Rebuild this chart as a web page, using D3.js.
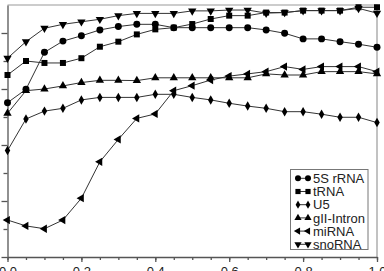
<!DOCTYPE html>
<html>
<head>
<meta charset="utf-8">
<script src="https://cdn.jsdelivr.net/npm/d3@7"></script>
<style>
  body { margin: 0; background: #fff; }
  svg { display: block; font-family: "Liberation Sans", Arial, sans-serif; }
</style>
</head>
<body>
<svg id="chart"></svg>
<script>
// x positions shared by every series
const xValues = d3.range(0, 21).map(i => i * 0.05);

const rRNA5S = [0.551, 0.599, 0.731, 0.771, 0.790, 0.811, 0.823, 0.831, 0.831, 0.819, 0.819,
  0.819, 0.819, 0.819, 0.811, 0.799, 0.779, 0.779, 0.769, 0.760, 0.749];
const tRNA = [0.650, 0.700, 0.693, 0.693, 0.710, 0.751, 0.769, 0.795, 0.813, 0.819, 0.832,
  0.850, 0.862, 0.862, 0.873, 0.873, 0.880, 0.880, 0.880, 0.892, 0.892];
const U5 = [0.380, 0.493, 0.521, 0.531, 0.561, 0.570, 0.570, 0.570, 0.581, 0.581, 0.570,
  0.561, 0.549, 0.539, 0.531, 0.519, 0.519, 0.510, 0.499, 0.499, 0.480];
const gIIIntron = [0.513, 0.594, 0.600, 0.611, 0.623, 0.631, 0.631, 0.630, 0.640, 0.640, 0.640,
  0.640, 0.640, 0.640, 0.654, 0.650, 0.650, 0.662, 0.662, 0.662, 0.654];
const miRNA = [0.132, 0.111, 0.101, 0.132, 0.210, 0.340, 0.420, 0.495, 0.511, 0.594, 0.612,
  0.632, 0.646, 0.654, 0.662, 0.680, 0.670, 0.680, 0.680, 0.680, 0.662];
const snoRNA = [0.710, 0.769, 0.817, 0.831, 0.840, 0.849, 0.862, 0.870, 0.870, 0.870, 0.879,
  0.879, 0.882, 0.882, 0.871, 0.873, 0.880, 0.880, 0.880, 0.888, 0.871];

const seriesNames = ['5S rRNA', 'tRNA', 'U5', 'gII-Intron', 'miRNA', 'snoRNA'];
const seriesValues = [rRNA5S, tRNA, U5, gIIIntron, miRNA, snoRNA];
const xTickLabels = ['0.0', '0.2', '0.4', '0.6', '0.8', '1.0'];

const width = 384;
const height = 271;
const margin = { top: 5, right: 7, bottom: 14, left: 7.5 };

const markers = [
  { type: d3.symbolCircle, size: 38, rotate: 0 },
  { type: d3.symbolSquare, size: 36, rotate: 0 },
  { type: d3.symbolDiamond, size: 26, rotate: 0 },
  { type: d3.symbolTriangle, size: 30, rotate: 0 },
  { type: d3.symbolTriangle, size: 30, rotate: -90 },
  { type: d3.symbolTriangle, size: 30, rotate: 180 }
];

const svg = d3.select('#chart').attr('width', width).attr('height', height);

const x = d3.scaleLinear()
  .domain([0, 1])
  .range([margin.left, width - margin.right]);

const y = d3.scaleLinear()
  .domain([0, 0.9])
  .range([height - margin.bottom, margin.top]);

// frame (top and right)
svg.append('path')
  .attr('d', `M${x(0)},${y(0.9)}H${x(1)}V${y(0)}`)
  .attr('fill', 'none')
  .attr('stroke', '#9a9a9a')
  .attr('stroke-width', 1.2);

// x axis: minor ticks every 0.05, labels every 0.2
const xAxisMinor = g => g
  .attr('transform', `translate(0,${y(0)})`)
  .call(d3.axisBottom(x).tickValues(d3.range(0, 21).map(i => i * 0.05)).tickSize(3).tickFormat(''))
  .call(g => g.select('.domain').remove());

const xAxis = g => g
  .attr('transform', `translate(0,${y(0)})`)
  .call(d3.axisBottom(x).tickValues(d3.range(0, 6).map(i => i * 0.2)).tickSize(5).tickSizeOuter(0)
    .tickFormat((d, i) => xTickLabels[i]))
  .call(g => g.selectAll('text').attr('font-size', 13).attr('dy', 0).attr('y', 19)
    .attr('fill', '#222').attr('font-family', '"Liberation Sans", Arial, sans-serif'));

// y axis: majors every 0.2, minors every 0.1, labels cropped away
const yAxisMinor = g => g
  .attr('transform', `translate(${x(0)},0)`)
  .call(d3.axisLeft(y).tickValues([0.1, 0.3, 0.5, 0.7]).tickSize(4).tickFormat(''))
  .call(g => g.select('.domain').remove());

const yAxis = g => g
  .attr('transform', `translate(${x(0)},0)`)
  .call(d3.axisLeft(y).tickValues([0, 0.2, 0.4, 0.6, 0.8]).tickSize(6).tickSizeOuter(0).tickFormat(''));

svg.append('g').attr('class', 'axis').call(xAxisMinor);
svg.append('g').attr('class', 'axis').call(xAxis);
svg.append('g').attr('class', 'axis').call(yAxisMinor);
svg.append('g').attr('class', 'axis').call(yAxis);
svg.selectAll('.axis path, .axis line').attr('stroke', '#555').attr('stroke-width', 1.3);

const line = d3.line()
  .x((d, i) => x(xValues[i]))
  .y(d => y(d));

const symbolPath = (m, k = 1) => d3.symbol().type(m.type).size(m.size * k)();

seriesValues.forEach((vals, s) => {
  const g = svg.append('g');
  g.append('path')
    .datum(vals)
    .attr('d', line)
    .attr('fill', 'none')
    .attr('stroke', '#333')
    .attr('stroke-width', 1);
  g.selectAll('path.mk')
    .data(vals)
    .join('path')
    .attr('class', 'mk')
    .attr('d', symbolPath(markers[s]))
    .attr('transform', (d, i) => `translate(${x(xValues[i])},${y(d)}) rotate(${markers[s].rotate})`)
    .attr('fill', '#000');
});

// legend
const legend = svg.append('g').attr('transform', 'translate(290.5,169.5)');
legend.append('rect')
  .attr('width', 77.5)
  .attr('height', 80)
  .attr('fill', '#fff')
  .attr('stroke', '#777')
  .attr('stroke-width', 1);

const rows = legend.selectAll('g.row')
  .data(seriesNames)
  .join('g')
  .attr('class', 'row')
  .attr('transform', (d, i) => `translate(0,${8.8 + i * 13.2})`);

rows.append('line')
  .attr('x1', 7.5).attr('x2', 17.5)
  .attr('stroke', '#333').attr('stroke-width', 1);

rows.each(function (d, i) {
  d3.select(this).selectAll('path')
    .data([7.5, 17.5])
    .join('path')
    .attr('d', symbolPath(markers[i], 0.75))
    .attr('transform', px => `translate(${px},0) rotate(${markers[i].rotate})`)
    .attr('fill', '#000');
});

rows.append('text')
  .attr('x', 22.5)
  .attr('dy', '0.36em')
  .attr('font-size', 13)
  .attr('fill', '#222')
  .text(d => d);
</script>
</body>
</html>
